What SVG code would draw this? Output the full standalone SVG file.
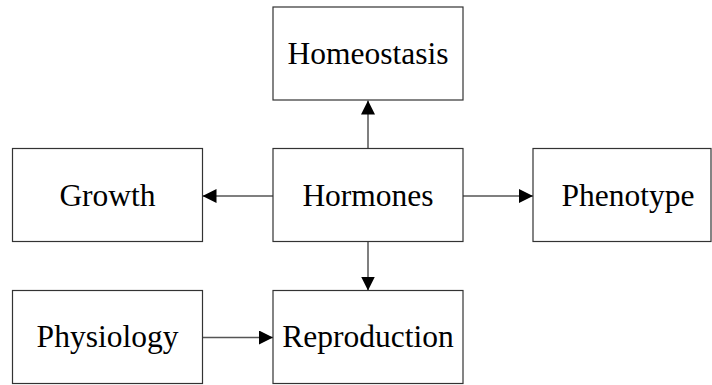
<svg xmlns="http://www.w3.org/2000/svg" width="712" height="385" viewBox="0 0 712 385">
<style>
.box{fill:#fff;stroke:#333;stroke-width:1.2}
.lbl{font-family:"Liberation Serif","Times New Roman",serif;font-size:31.5px;fill:#000;text-anchor:middle}
.con{stroke:#555;stroke-width:1.5;fill:none}
</style>
<defs>
<marker id="ah" markerWidth="14" markerHeight="14" viewBox="0 0 14 14" refX="14" refY="7" orient="auto" markerUnits="userSpaceOnUse">
<path d="M0,0 L14,7 L0,14 Z" fill="#000"/>
</marker>
</defs>
<rect width="712" height="385" fill="#fff"/>
<g id="connectors">
<line class="con" x1="368" y1="148" x2="368" y2="100.5" marker-end="url(#ah)"/>
<line class="con" x1="273" y1="196" x2="202.5" y2="196" marker-end="url(#ah)"/>
<line class="con" x1="463" y1="196" x2="533" y2="196" marker-end="url(#ah)"/>
<line class="con" x1="368" y1="241.5" x2="368" y2="290.5" marker-end="url(#ah)"/>
<line class="con" x1="202.5" y1="337.5" x2="273" y2="337.5" marker-end="url(#ah)"/>
</g>
<g id="homeostasis"><rect class="box" x="273" y="7" width="190" height="93"/><text class="lbl" x="368" y="64">Homeostasis</text></g>
<g id="growth"><rect class="box" x="12.5" y="148.5" width="190" height="93"/><text class="lbl" x="107.5" y="205.5">Growth</text></g>
<g id="hormones"><rect class="box" x="273" y="148.5" width="190" height="93"/><text class="lbl" x="368" y="205.5">Hormones</text></g>
<g id="phenotype"><rect class="box" x="533" y="148.5" width="178" height="93"/><text class="lbl" x="628" y="205.5">Phenotype</text></g>
<g id="physiology"><rect class="box" x="12.5" y="290.5" width="190" height="93"/><text class="lbl" x="107.5" y="347">Physiology</text></g>
<g id="reproduction"><rect class="box" x="273" y="290.5" width="190" height="93"/><text class="lbl" x="368" y="347">Reproduction</text></g>
</svg>
